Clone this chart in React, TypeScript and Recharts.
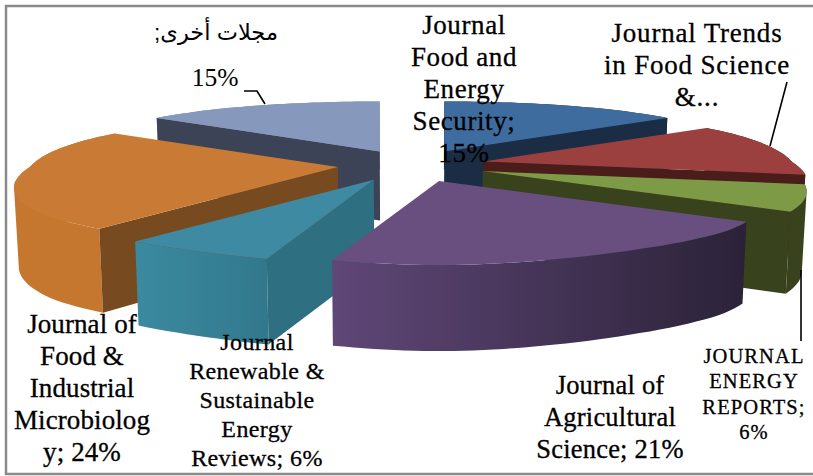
import { Cell, Pie, PieChart } from "recharts";

const journals = [
  "Journal Food and Energy Security",
  "Journal Trends in Food Science &...",
  "JOURNAL ENERGY REPORTS",
  "Journal of Agricultural Science",
  "Journal Renewable & Sustainable Energy Reviews",
  "Journal of Food & Industrial Microbiology",
  "مجلات أخرى",
];
const shares = [15, 13, 6, 21, 6, 24, 15];
const topColors = ["#3f6c9e", "#9b403e", "#7d9a47", "#684f80", "#3e8aa2", "#c97a35", "#8699bd"];
const sideColors = ["#1b2d45", "#4a1c1a", "#38431e", "#3a2b4a", "#2f6f82", "#784a20", "#3c4356"];
const wallStart = ["#1b2d45", "#4a1c1a", "#38431e", "#5f4777", "#3b8aa0", "#c6772f", "#7b8fb2"];
const wallEnd = ["#1b2d45", "#4a1c1a", "#38431e", "#2b2238", "#32788c", "#c6772f", "#7b8fb2"];
// back to front, so nearer slices cover the ones behind them
const drawOrder = [6, 0, 1, 2, 5, 4, 3];

const tableData = journals.map((name, i) => ({ name, value: shares[i] }));

const WIDTH = 813;
const HEIGHT = 476;
const EXPLODE = 0.24;

// fake perspective: the far side of the pie is narrower and flatter
const project = (x: number, y: number, radius: number) => {
  const u = Math.max(0, -y);
  const over = Math.max(0, u - 0.6);
  const lateral = y > 0 ? radius - 55 * y : radius + 105 * u - 500 * over * over;
  return [x * lateral, -y * (67 - 17 * y)];
};
const depthAt = (y: number) => 77 - 9 * y;

const Slice3D = (props: any) => {
  const { cx, cy, outerRadius, startAngle, endAngle, midAngle, index, fill } = props;
  const toTheta = (a: number) => ((90 - a) * Math.PI) / 180;
  const t0 = toTheta(startAngle);
  const t1 = toTheta(endAngle);
  const mid = toTheta(midAngle);

  const off = project(EXPLODE * Math.sin(mid), EXPLODE * Math.cos(mid), outerRadius);
  const ax = cx + off[0];
  const ay = cy + off[1];

  const rim: number[][] = [];
  const lowRim: number[][] = [];
  const low = (p: number[], y: number) => [p[0] + (cx - p[0]) * 0.012, p[1] + depthAt(y)];
  const steps = Math.ceil(Math.abs(t1 - t0) / 0.03);
  for (let s = 0; s <= steps; s++) {
    const t = t0 + ((t1 - t0) * s) / steps;
    const p = project(Math.sin(t), Math.cos(t), outerRadius);
    const top = [ax + p[0], ay + p[1]];
    rim.push(top);
    lowRim.push(low(top, Math.cos(t)));
  }
  const toPath = (pts: number[][]) =>
    pts.map((p, i) => `${i ? "L" : "M"}${p[0].toFixed(1)} ${p[1].toFixed(1)}`).join(" ") + " Z";

  // the wall folds over itself at the left and right turns, so fill it strip by strip
  const wall = rim
    .slice(1)
    .map((q, i) => {
      const p = rim[i];
      const quad = [p, q, lowRim[i + 1], lowRim[i]];
      return toPath(q[0] >= p[0] ? quad : quad.reverse());
    })
    .join(" ");

  const first = rim[0];
  const last = rim[rim.length - 1];
  const lastLow = lowRim[lowRim.length - 1];
  const apex = [ax, ay];
  const apexLow = low(apex, Math.cos(mid));
  const gradId = `wall-${index}`;

  return (
    <g>
      <defs>
        <linearGradient id={gradId} x1="0" y1="0" x2="1" y2="0">
          <stop offset="0" stopColor={wallStart[index]} />
          <stop offset="1" stopColor={wallEnd[index]} />
        </linearGradient>
      </defs>
      <path d={wall} fill={`url(#${gradId})`} />
      {Math.sin(t0) < -0.01 && (
        <path d={toPath([apex, first, lowRim[0], apexLow])} fill={sideColors[index]} />
      )}
      {Math.sin(t1) > 0.01 && (
        <path d={toPath([apex, last, lastLow, apexLow])} fill={sideColors[index]} />
      )}
      <path d={toPath([apex, ...rim])} fill={fill} />
    </g>
  );
};

type ChartLabel = {
  x: number;
  y: number;
  size: number;
  gap: number;
  spacing: number;
  lines: string[];
  leader?: string;
};

// one per slice, same order as journals
const labels: ChartLabel[] = [
  { x: 464, y: 34, size: 27, gap: 32, spacing: 0.6, lines: ["Journal", "Food and", "Energy", "Security;", "15%"] },
  { x: 697, y: 42, size: 27, gap: 32, spacing: 0.8, lines: ["Journal Trends", "in Food Science", "&..."], leader: "M787 82 L770 146" },
  { x: 754, y: 363, size: 20.5, gap: 25.3, spacing: 1.1, lines: ["JOURNAL", "ENERGY", "REPORTS;", "6%"], leader: "M801 270 L801 341" },
  { x: 610, y: 394, size: 26.5, gap: 32, spacing: 0.2, lines: ["Journal of", "Agricultural", "Science; 21%"] },
  { x: 257, y: 350, size: 24, gap: 29, spacing: 0.4, lines: ["Journal", "Renewable &", "Sustainable", "Energy", "Reviews; 6%"] },
  { x: 82, y: 333, size: 27, gap: 32, spacing: 0.1, lines: ["Journal of", "Food &", "Industrial", "Microbiolog", "y; 24%"] },
];

const renderLabel = ({ index }: any) => {
  if (index === 6) {
    return (
      <g>
        <path d="M244 91 L257 91 L265 104" fill="none" stroke="#000" strokeWidth={1.6} />
        <text x={216} y={40} textAnchor="middle" direction="rtl" fontFamily="'Liberation Sans', 'DejaVu Sans', sans-serif" fontSize={22.5} fill="#000">
          مجلات أخرى;
        </text>
        <text x={215} y={86} textAnchor="middle" fontFamily="'Liberation Serif', serif" fontSize={25.5} fill="#000">
          15%
        </text>
      </g>
    );
  }
  const l = labels[index];
  return (
    <g>
      {l.leader && <path d={l.leader} fill="none" stroke="#000" strokeWidth={1.6} />}
      <text
        textAnchor="middle"
        fontFamily="'Liberation Serif', serif"
        fontSize={l.size}
        letterSpacing={l.spacing}
        fill="#000"
        stroke="#000"
        strokeWidth={0.3}
      >
        {l.lines.map((line, i) => (
          <tspan key={line} x={l.x} y={l.y + i * l.gap}>
            {line}
          </tspan>
        ))}
      </text>
    </g>
  );
};

export default function App() {
  return (
    <div style={{ position: "absolute", left: 0, top: 0, width: WIDTH, height: HEIGHT, background: "#fff" }}>
      <PieChart width={WIDTH} height={HEIGHT} margin={{ top: 0, right: 0, bottom: 0, left: 0 }}>
        <rect x={6} y={6} width={840} height={468} fill="#fff" stroke="#8a8a8a" strokeWidth={2.5} />
        {drawOrder.map((slice) => (
          <Pie
            key={slice}
            data={tableData}
            dataKey="value"
            nameKey="name"
            cx={412}
            cy={165}
            outerRadius={308}
            startAngle={90}
            endAngle={-270}
            stroke="none"
            isAnimationActive={false}
            labelLine={false}
            label={slice === drawOrder[drawOrder.length - 1] ? renderLabel : false}
            shape={(p: any) => (p.index === slice ? <Slice3D {...p} /> : <g />)}
          >
            {tableData.map((row, i) => (
              <Cell key={row.name} fill={topColors[i]} />
            ))}
          </Pie>
        ))}
      </PieChart>
    </div>
  );
}
